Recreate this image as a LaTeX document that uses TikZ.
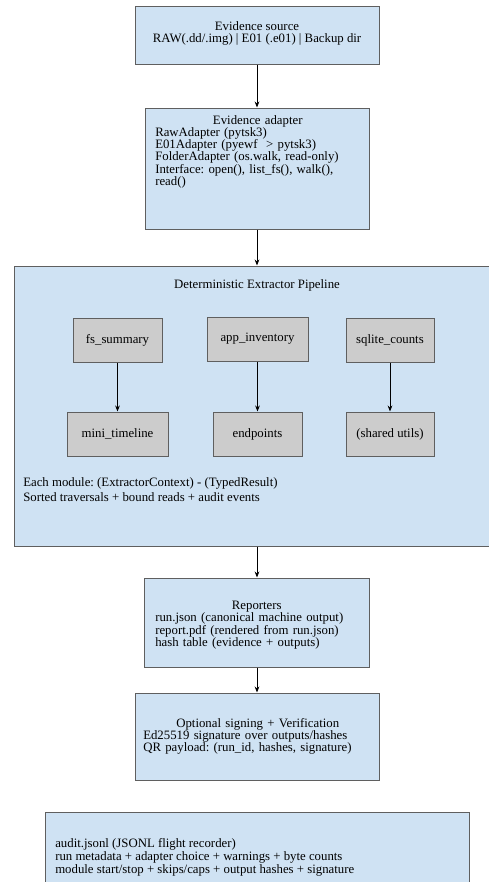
\documentclass[tikz,border=0pt]{standalone}
\usepackage{fontspec}
\setmainfont{Liberation Serif}
\usetikzlibrary{arrows.meta}
\definecolor{boxblue}{HTML}{CFE2F3}
\definecolor{modgray}{HTML}{CCCCCC}
\definecolor{edgegray}{HTML}{5F5F5F}
\frenchspacing

\begin{document}
\begin{tikzpicture}[x=0.75pt,y=0.75pt,yscale=-1,xscale=1,
  box/.style={draw=edgegray,line width=0.75pt,fill=boxblue,inner sep=0pt},
  module/.style={draw=edgegray,line width=0.75pt,fill=modgray,inner sep=0pt,minimum height=33pt,font=\fontsize{9.6}{10}\selectfont},
  txt/.style={inner sep=0pt,font=\fontsize{9.6}{9.2}\selectfont},
  arr/.style={-{Stealth[length=4.5pt,width=3.5pt]},line width=0.6pt}]
\useasboundingbox (0,0) rectangle (489,882);

%Shape: Rectangle [evidence source]
\node[box,minimum width=183pt,minimum height=43.5pt] (source) at (257,35) {};
%Shape: Rectangle [evidence adapter]
\node[box,minimum width=168pt,minimum height=90.75pt] (adapter) at (257,168.5) {};
%Shape: Rectangle [pipeline]
\node[box,minimum width=364.5pt,minimum height=210pt] (pipeline) at (257,406) {};
%Shape: Rectangle [reporters]
\node[box,minimum width=168.75pt,minimum height=66.75pt] (reporters) at (257,622.5) {};
%Shape: Rectangle [signing]
\node[box,minimum width=183pt,minimum height=65.25pt] (signing) at (257,736.5) {};
%Shape: Rectangle [audit]
\node[box,minimum width=318pt,minimum height=66pt] (audit) at (257,856) {};

%Modules
\node[module,minimum width=66.75pt] (fssummary) at (117.5,340) {fs\_summary};
\node[module,minimum width=75.75pt] (appinv) at (257.5,339) {app\_inventory};
\node[module,minimum width=66pt] (sqlcounts) at (390,340) {sqlite\_counts};
\node[module,minimum width=75.75pt] (minitl) at (117.5,434) {mini\_timeline};
\node[module,minimum width=66.75pt] (endpts) at (257.5,434) {endpoints};
\node[module,minimum width=66pt] (sharedutils) at (390,434) {(shared utils)};

%Straight Lines
\draw[arr] (source) -- (adapter);
\draw[arr] (adapter) -- (pipeline);
\draw[arr] (pipeline) -- (reporters);
\draw[arr] (reporters) -- (signing);
\draw[arr] (fssummary) -- (minitl);
\draw[arr] (appinv) -- (endpts);
\draw[arr] (sqlcounts) -- (sharedutils);

% Text Node
\node[txt,align=center] (sourcetxt) at (257,33.5) {Evidence source\\RAW(.dd/.img) | E01 (.e01) | Backup dir};
% Text Node
\node[txt,anchor=north west,text width=153.75pt,align=left] (adaptertxt) at (155,115)
  {{\centering Evidence adapter\par}RawAdapter (pytsk3)\\E01Adapter (pyewf \ > pytsk3)\\FolderAdapter (os.walk, read-only)\\Interface: open(), list\_fs(), walk(),\\read()};
% Text Node
\node[txt] (pipelinetxt) at (257,285) {Deterministic Extractor Pipeline};
% Text Node
\node[txt,anchor=north west,align=left,font=\fontsize{9.6}{11.8}\selectfont] (pipelinenote) at (23,477)
  {Each module: (ExtractorContext) - (TypedResult)\\Sorted traversals + bound reads + audit events};
% Text Node
\node[txt,anchor=north west,text width=152.25pt,align=left] (reporterstxt) at (155,601)
  {{\centering Reporters\par}run.json (canonical machine output)\\report.pdf (rendered from run.json)\\hash table (evidence + outputs)};
% Text Node
\node[txt,anchor=north west,text width=171.75pt,align=left] (signingtxt) at (143,718)
  {{\centering Optional signing + Verification\par}Ed25519 signature over outputs/hashes\\QR payload: (run\_id, hashes, signature)};
% Text Node
\node[txt,anchor=north west,align=left,font=\fontsize{9.6}{9.75}\selectfont] (audittxt) at (55,838)
  {audit.jsonl (JSONL flight recorder)\\run metadata + adapter choice + warnings + byte counts\\module start/stop + skips/caps + output hashes + signature};

\end{tikzpicture}
\end{document}
